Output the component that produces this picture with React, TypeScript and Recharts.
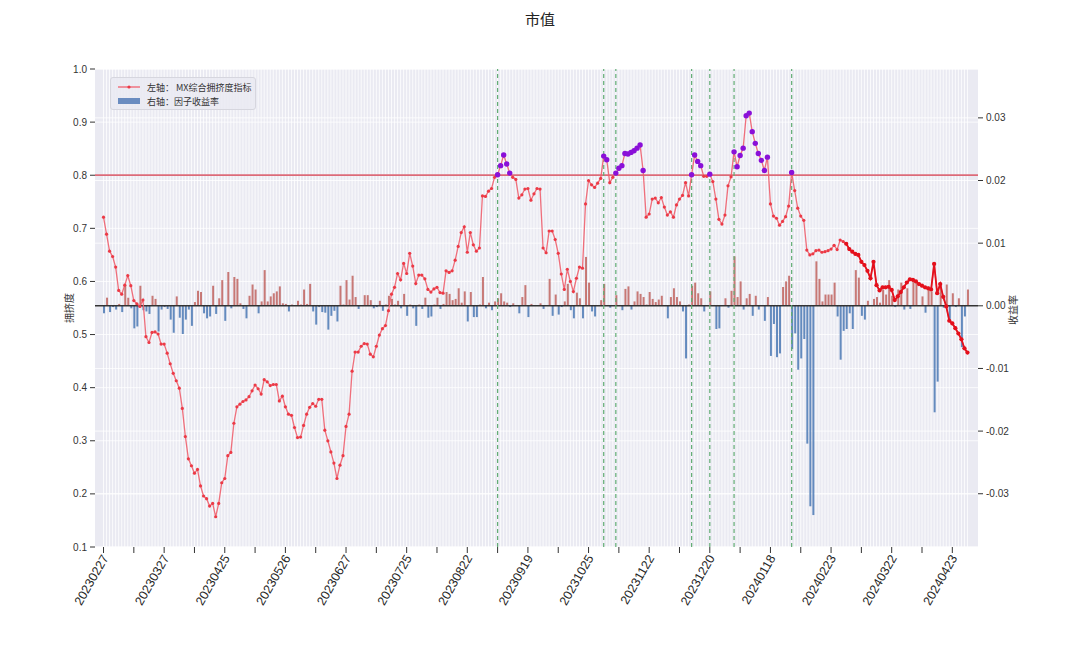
import { ComposedChart, Bar, Line, XAxis, YAxis, CartesianGrid, ReferenceLine, Cell } from 'recharts'

// trading days, grouped by month
const tradingDays = [
  '20230227 20230228',
  '20230301 20230302 20230303 20230306 20230307 20230308 20230309 20230310 20230313 20230314 20230315 20230316 20230317 20230320 20230321 20230322 20230323 20230324 20230327 20230328 20230329 20230330 20230331',
  '20230403 20230404 20230406 20230407 20230410 20230411 20230412 20230413 20230414 20230417 20230418 20230419 20230420 20230421 20230424 20230425 20230426 20230427 20230428',
  '20230504 20230505 20230508 20230509 20230510 20230511 20230512 20230515 20230516 20230517 20230518 20230519 20230522 20230523 20230524 20230525 20230526 20230529 20230530 20230531',
  '20230601 20230602 20230605 20230606 20230607 20230608 20230609 20230612 20230613 20230614 20230615 20230616 20230619 20230620 20230621 20230626 20230627 20230628 20230629 20230630',
  '20230703 20230704 20230705 20230706 20230707 20230710 20230711 20230712 20230713 20230714 20230717 20230718 20230719 20230720 20230721 20230724 20230725 20230726 20230727 20230728 20230731',
  '20230801 20230802 20230803 20230804 20230807 20230808 20230809 20230810 20230811 20230814 20230815 20230816 20230817 20230818 20230821 20230822 20230823 20230824 20230825 20230828 20230829 20230830 20230831',
  '20230901 20230904 20230905 20230906 20230907 20230908 20230911 20230912 20230913 20230914 20230915 20230918 20230919 20230920 20230921 20230922 20230925 20230926 20230927 20230928',
  '20231009 20231010 20231011 20231012 20231013 20231016 20231017 20231018 20231019 20231020 20231023 20231024 20231025 20231026 20231027 20231030 20231031',
  '20231101 20231102 20231103 20231106 20231107 20231108 20231109 20231110 20231113 20231114 20231115 20231116 20231117 20231120 20231121 20231122 20231123 20231124 20231127 20231128 20231129 20231130',
  '20231201 20231204 20231205 20231206 20231207 20231208 20231211 20231212 20231213 20231214 20231215 20231218 20231219 20231220 20231221 20231222 20231225 20231226 20231227 20231228 20231229',
  '20240102 20240103 20240104 20240105 20240108 20240109 20240110 20240111 20240112 20240115 20240116 20240117 20240118 20240119 20240122 20240123 20240124 20240125 20240126 20240129 20240130 20240131',
  '20240201 20240202 20240205 20240206 20240207 20240208 20240219 20240220 20240221 20240222 20240223 20240226 20240227 20240228 20240229',
  '20240301 20240304 20240305 20240306 20240307 20240308 20240311 20240312 20240313 20240314 20240315 20240318 20240319 20240320 20240321 20240322 20240325 20240326 20240327 20240328 20240329',
  '20240401 20240402 20240403 20240408 20240409 20240410 20240411 20240412 20240415 20240416 20240417 20240418 20240419 20240422 20240423 20240424 20240425 20240426 20240429 20240430',
].join(' ').split(' ')

// left axis: MX crowding indicator
const crowding = [
  0.721, 0.689, 0.657, 0.647, 0.627, 0.583, 0.576, 0.593, 0.611, 0.592,
  0.564, 0.558, 0.553, 0.565, 0.496, 0.485, 0.504, 0.505, 0.501, 0.482,
  0.482, 0.465, 0.445, 0.427, 0.413, 0.399, 0.361, 0.308, 0.266, 0.253,
  0.239, 0.246, 0.215, 0.196, 0.191, 0.177, 0.182, 0.157, 0.182, 0.221,
  0.229, 0.272, 0.278, 0.333, 0.364, 0.369, 0.374, 0.377, 0.383, 0.394,
  0.405, 0.398, 0.388, 0.415, 0.411, 0.404, 0.406, 0.406, 0.375, 0.384,
  0.364, 0.350, 0.348, 0.325, 0.306, 0.307, 0.329, 0.350, 0.363, 0.370,
  0.365, 0.378, 0.378, 0.320, 0.300, 0.279, 0.258, 0.229, 0.254, 0.272,
  0.327, 0.350, 0.431, 0.467, 0.467, 0.478, 0.483, 0.482, 0.463, 0.458,
  0.478, 0.499, 0.511, 0.517, 0.545, 0.576, 0.589, 0.615, 0.603, 0.634,
  0.615, 0.653, 0.629, 0.596, 0.612, 0.612, 0.605, 0.585, 0.580, 0.586,
  0.589, 0.579, 0.578, 0.620, 0.617, 0.620, 0.640, 0.666, 0.692, 0.703,
  0.655, 0.692, 0.669, 0.657, 0.663, 0.761, 0.760, 0.770, 0.775, 0.796,
  0.801, 0.818, 0.838, 0.821, 0.804, 0.796, 0.792, 0.757, 0.763, 0.774,
  0.775, 0.753, 0.765, 0.775, 0.774, 0.663, 0.654, 0.695, 0.695, 0.679,
  0.653, 0.614, 0.585, 0.623, 0.600, 0.581, 0.606, 0.627, 0.625, 0.746,
  0.790, 0.782, 0.777, 0.785, 0.794, 0.836, 0.829, 0.786, 0.796, 0.804,
  0.813, 0.818, 0.841, 0.840, 0.843, 0.846, 0.851, 0.857, 0.809, 0.721,
  0.727, 0.755, 0.757, 0.748, 0.758, 0.740, 0.725, 0.731, 0.721, 0.744,
  0.755, 0.762, 0.786, 0.761, 0.801, 0.838, 0.826, 0.818, 0.798, 0.798,
  0.802, 0.788, 0.755, 0.717, 0.708, 0.725, 0.780, 0.797, 0.844, 0.816,
  0.837, 0.851, 0.912, 0.917, 0.882, 0.860, 0.841, 0.828, 0.809, 0.834,
  0.746, 0.723, 0.719, 0.706, 0.713, 0.722, 0.742, 0.805, 0.771, 0.738,
  0.723, 0.715, 0.659, 0.650, 0.652, 0.658, 0.659, 0.655, 0.656, 0.658,
  0.661, 0.668, 0.660, 0.678, 0.675, 0.671, 0.661, 0.656, 0.652, 0.650,
  0.637, 0.631, 0.620, 0.606, 0.637, 0.593, 0.583, 0.589, 0.589, 0.590,
  0.584, 0.565, 0.572, 0.580, 0.589, 0.598, 0.604, 0.603, 0.600, 0.595,
  0.592, 0.589, 0.587, 0.585, 0.633, 0.578, 0.595, 0.571, 0.553, 0.526,
  0.521, 0.512, 0.502, 0.491, 0.474, 0.466,
]

// right axis: factor daily return
const factorReturn = [
  -0.0012, 0.0013, -0.0010, -0.0002, -0.0006, 0.0003, -0.0010, 0.0034, 0.0013, -0.0004,
  -0.0036, -0.0033, 0.0032, -0.0007, -0.0009, -0.0013, 0.0016, 0.0011, -0.0041, -0.0006,
  -0.0002, -0.0005, -0.0022, -0.0043, 0.0015, -0.0019, -0.0045, -0.0022, -0.0006, -0.0032,
  0.0006, 0.0024, 0.0022, -0.0012, -0.0020, -0.0017, 0.0032, -0.0013, 0.0012, 0.0041,
  -0.0024, 0.0054, -0.0004, 0.0046, 0.0043, 0.0004, -0.0005, -0.0020, 0.0016, 0.0034,
  0.0026, -0.0012, 0.0007, 0.0057, 0.0007, 0.0015, 0.0020, 0.0023, 0.0031, 0.0004,
  0.0003, -0.0009, 0.0002, 0.0001, 0.0008, 0.0002, 0.0026, 0.0003, 0.0035, -0.0009,
  -0.0030, -0.0002, -0.0010, -0.0011, -0.0038, -0.0016, -0.0008, -0.0025, 0.0032, 0.0002,
  0.0041, 0.0010, 0.0048, 0.0014, -0.0005, 0.0001, 0.0017, 0.0017, 0.0009, -0.0004,
  -0.0002, 0.0008, -0.0008, 0.0002, 0.0016, 0.0011, 0.0002, 0.0008, -0.0004, 0.0019,
  -0.0016, 0.0002, -0.0004, -0.0032, 0.0002, -0.0005, 0.0013, -0.0019, -0.0017, 0.0002,
  0.0013, -0.0005, 0.0003, 0.0022, 0.0019, 0.0009, 0.0011, 0.0028, 0.0005, 0.0023,
  -0.0025, 0.0022, -0.0018, -0.0018, 0.0002, 0.0046, -0.0004, 0.0005, -0.0007, 0.0007,
  0.0012, 0.0020, 0.0007, 0.0005, -0.0002, 0.0004, 0.0001, -0.0012, 0.0014, 0.0033,
  -0.0018, 0.0003, 0.0001, 0.0001, 0.0004, -0.0005, 0.0001, 0.0043, -0.0016, 0.0018,
  -0.0014, -0.0002, 0.0007, 0.0035, -0.0007, -0.0020, 0.0021, 0.0012, -0.0020, 0.0078,
  0.0037, -0.0009, -0.0017, 0.0001, 0.0009, 0.0035, 0.0001, -0.0003, 0.0001, 0.0017,
  0.0001, -0.0007, 0.0027, 0.0031, -0.0006, 0.0007, 0.0023, 0.0019, 0.0014, 0.0002,
  0.0022, 0.0011, 0.0006, 0.0010, 0.0016, 0.0001, -0.0020, 0.0014, 0.0028, 0.0014,
  0.0007, -0.0009, -0.0084, 0.0002, 0.0032, 0.0037, 0.0020, 0.0012, -0.0009, 0.0001,
  0.0023, 0.0001, -0.0037, -0.0036, 0.0001, 0.0012, -0.0003, 0.0024, 0.0079, 0.0014,
  0.0039, -0.0006, 0.0012, 0.0019, -0.0016, 0.0016, -0.0006, 0.0001, -0.0024, 0.0014,
  -0.0080, -0.0029, -0.0082, -0.0076, 0.0030, 0.0039, 0.0048, -0.0069, -0.0044, -0.0102,
  -0.0084, -0.0053, -0.0220, -0.0320, -0.0334, 0.0071, 0.0043, 0.0007, 0.0018, 0.0018,
  0.0018, 0.0037, -0.0017, -0.0086, -0.0040, -0.0037, -0.0012, -0.0037, 0.0057, 0.0045,
  -0.0016, -0.0022, 0.0008, 0.0001, 0.0011, 0.0014, 0.0005, 0.0026, 0.0018, 0.0041,
  0.0016, -0.0002, 0.0026, 0.0037, -0.0006, 0.0028, -0.0005, 0.0043, 0.0039, 0.0001,
  0.0015, -0.0011, 0.0031, 0.0023, -0.0170, -0.0121, 0.0037, -0.0003, 0.0034, -0.0022,
  0.0020, -0.0002, 0.0012, -0.0066, -0.0017, 0.0026,
]

// days the indicator crossed above the threshold
const signalDays = ['20230905', '20231101', '20231107', '20231212', '20231220', '20240102', '20240129']
const leftTicks = [0.1, 0.2, 0.3, 0.4, 0.5, 0.6, 0.7, 0.8, 0.9, 1.0]
const rightTicks = [-0.03, -0.02, -0.01, 0, 0.01, 0.02, 0.03]
const threshold = 0.8
const recentFrom = '20240301'

const recentIdx = tradingDays.indexOf(recentFrom)
const chartData = tradingDays.map((date, i) => ({
  date,
  crowd: crowding[i],
  hot: crowding[i] > threshold ? crowding[i] : null,
  recent: i >= recentIdx ? crowding[i] : null,
  ret: factorReturn[i],
}))

const LATIN = '"Liberation Sans", Arial, sans-serif'
const CJK = '"Noto Sans CJK SC", "Liberation Sans", sans-serif'

// one white grid line per trading day
const dayLines = (props: any) => {
  try {
    const s = props?.xAxis?.scale
    if (!s) return []
    const bw = typeof s.bandwidth === 'function' ? s.bandwidth() : 0
    return tradingDays.map((d) => {
      const v = typeof s === 'function' ? s(d) : s.map(d)
      return (v ?? 0) + bw / 2
    })
  } catch (e) {
    return []
  }
}

function DateTick({ x, y, payload }: any) {
  const i = tradingDays.indexOf(payload.value)
  if (i % 20 !== 0) return null
  const tx = x + 2
  const ty = y + 1
  return (
    <text
      x={tx}
      y={ty}
      transform={`rotate(-60 ${tx} ${ty})`}
      textAnchor="end"
      dominantBaseline="central"
      fontSize={12.5}
      fontFamily={LATIN}
      fill="#262626"
    >
      {payload.value}
    </text>
  )
}

export default function App() {
  return (
    <div style={{ position: 'absolute', left: 0, top: 0, width: 1080, height: 648, background: '#fff' }}>
      <ComposedChart width={1080} height={648} data={chartData} margin={{ top: 69, right: 0, bottom: 0, left: 0 }}>
        <CartesianGrid
          yAxisId="left"
          fill="#eaeaf2"
          stroke="#ffffff"
          strokeWidth={0.8}
          verticalCoordinatesGenerator={dayLines}
        />
        <CartesianGrid yAxisId="right" vertical={false} stroke="#ffffff" strokeWidth={0.8} />
        <XAxis
          dataKey="date"
          interval={9}
          tick={<DateTick />}
          tickSize={6}
          tickMargin={2}
          tickLine={{ stroke: '#333' }}
          axisLine={false}
          height={101}
          padding={{ left: 7, right: 9 }}
        />
        <YAxis
          yAxisId="left"
          domain={[0.1, 1.0]}
          ticks={leftTicks}
          allowDataOverflow
          tickFormatter={(v: number) => v.toFixed(1)}
          tick={{ fontSize: 10, fill: '#333', fontFamily: LATIN }}
          tickSize={5}
          tickMargin={3}
          tickLine={{ stroke: '#333' }}
          axisLine={false}
          width={95}
        />
        <YAxis
          yAxisId="right"
          orientation="right"
          domain={[-0.0385, 0.0378]}
          ticks={rightTicks}
          allowDataOverflow
          tickFormatter={(v: number) => v.toFixed(2)}
          tick={{ fontSize: 10, fill: '#333', fontFamily: LATIN }}
          tickSize={5}
          tickMargin={3}
          tickLine={{ stroke: '#333' }}
          axisLine={false}
          width={102}
        />
        <Bar yAxisId="right" dataKey="ret" barSize={2} isAnimationActive={false}>
          {chartData.map((d) => (
            <Cell
              key={d.date}
              fill={d.ret >= 0 ? '#b5453f' : '#4a78b4'}
              fillOpacity={d.ret >= 0 ? 0.7 : 0.85}
            />
          ))}
        </Bar>
        <ReferenceLine yAxisId="right" y={0} stroke="#333" strokeWidth={1.5} />
        <ReferenceLine yAxisId="left" y={threshold} stroke="#dc6a78" strokeWidth={1.8} />
        {signalDays.map((d) => (
          <ReferenceLine key={d} yAxisId="left" x={d} stroke="#62ad74" strokeWidth={1.2} strokeDasharray="4 3" />
        ))}
        <Line
          yAxisId="left"
          dataKey="crowd"
          stroke="#f0606e"
          strokeOpacity={0.9}
          strokeWidth={1.3}
          dot={{ r: 1.6, fill: '#ec3a46', stroke: 'none' }}
          isAnimationActive={false}
        />
        <Line
          yAxisId="left"
          dataKey="recent"
          stroke="#e4101c"
          strokeWidth={1.8}
          dot={{ r: 2.1, fill: '#e4101c', stroke: 'none' }}
          isAnimationActive={false}
        />
        <Line
          yAxisId="left"
          dataKey="hot"
          stroke="none"
          strokeWidth={0}
          dot={{ r: 2.7, fill: '#8a10d8', stroke: 'none' }}
          isAnimationActive={false}
        />
      </ComposedChart>

      <div style={{ position: 'absolute', top: 8, left: 0, width: 1080, textAlign: 'center', fontFamily: CJK, fontSize: 15, color: '#222' }}>
        市值
      </div>
      <div style={{ position: 'absolute', left: 68, top: 308, transform: 'translate(-50%, -50%) rotate(-90deg)', fontFamily: CJK, fontSize: 10, color: '#333', whiteSpace: 'nowrap' }}>
        拥挤度
      </div>
      <div style={{ position: 'absolute', left: 1012, top: 310, transform: 'translate(-50%, -50%) rotate(-90deg)', fontFamily: CJK, fontSize: 10, color: '#333', whiteSpace: 'nowrap' }}>
        收益率
      </div>

      <div
        style={{
          position: 'absolute', left: 110, top: 77, width: 146, height: 33, boxSizing: 'border-box',
          background: 'rgba(234,234,242,0.85)', border: '1px solid #d6d6de', borderRadius: 3,
          fontFamily: CJK, fontSize: 9, color: '#333',
        }}
      >
        <div style={{ position: 'absolute', left: 6, top: 3, display: 'flex', alignItems: 'center', height: 12 }}>
          <svg width={24} height={12}>
            <line x1={1} y1={6} x2={23} y2={6} stroke="#f0606e" strokeWidth={1.3} />
            <circle cx={12} cy={6} r={1.6} fill="#ec3a46" />
          </svg>
          <span style={{ marginLeft: 6 }}>左轴： MX综合拥挤度指标</span>
        </div>
        <div style={{ position: 'absolute', left: 6, top: 17, display: 'flex', alignItems: 'center', height: 12 }}>
          <svg width={24} height={12}>
            <rect x={1} y={3} width={22} height={6} fill="#6a8cc0" />
          </svg>
          <span style={{ marginLeft: 6 }}>右轴：因子收益率</span>
        </div>
      </div>
    </div>
  )
}
